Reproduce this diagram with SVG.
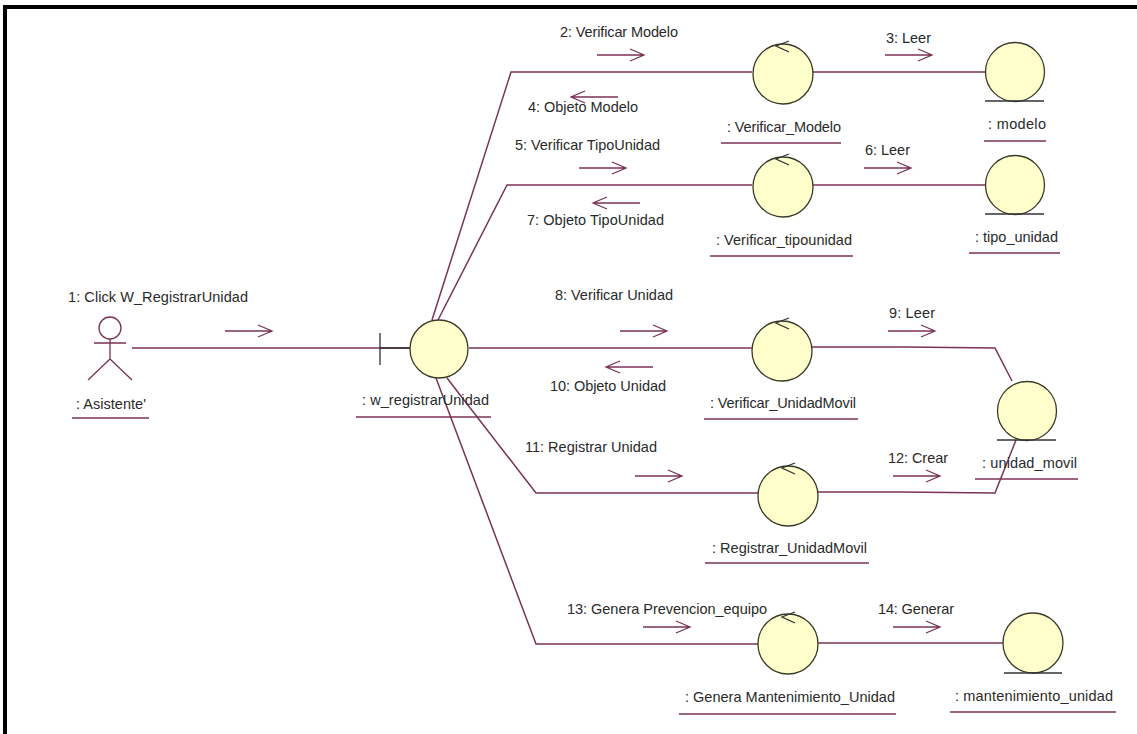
<svg xmlns="http://www.w3.org/2000/svg" width="1137" height="734" viewBox="0 0 1137 734">
<defs>
<style>
.c{fill:none;stroke:#7a3356;stroke-width:1.5}
.m{fill:none;stroke:#7a3356;stroke-width:1.3}
.n{fill:#ffffcc;stroke:#3a3a28;stroke-width:1.3}
.b{fill:none;stroke:#333;stroke-width:1.3}
.u{stroke:#7a3356;stroke-width:1.3}
text{font-family:"Liberation Sans",Arial,sans-serif;font-size:14.5px;fill:#2a2a2a}
</style>
<path id="r" class="m" d="M0 0H47M33-6 47 0 33 6"/>
<path id="l" class="m" d="M0 0H-47M-33-6-47 0-33 6"/>
<path id="h" class="b" d="M6-5-7 0 6 6"/>
</defs>
<rect x="0" y="0" width="1137" height="734" fill="#fff"/>
<path d="M5 734V7H1137" fill="none" stroke="#000" stroke-width="4"/>
<g id="connectors">
<path class="c" d="M132 348H410"/>
<path class="c" d="M469 348H752"/>
<path class="c" d="M432 320 511 72H752"/>
<path class="c" d="M438 320 507 185H752"/>
<path class="c" d="M436 378 536 644H758"/>
<path class="c" d="M447 378 536 493H758"/>
<path class="c" d="M813 72H985"/>
<path class="c" d="M813 185H985"/>
<path class="c" d="M812 347H905L995 348 1012 381"/>
<path class="c" d="M818 492H900L995 493 1016 440"/>
<path class="c" d="M818 643H1003"/>
<use href="#r" x="225" y="331"/>
<use href="#r" x="597" y="55"/>
<use href="#l" x="618" y="97"/>
<use href="#r" x="885" y="55"/>
<use href="#r" x="579" y="168"/>
<use href="#l" x="640" y="203"/>
<use href="#r" x="864" y="168"/>
<use href="#r" x="620" y="331"/>
<use href="#l" x="653" y="367"/>
<use href="#r" x="888" y="331"/>
<use href="#r" x="635" y="476"/>
<use href="#r" x="893" y="476"/>
<use href="#r" x="643" y="627"/>
<use href="#r" x="893" y="627"/>
</g>
<g id="asistente">
<circle cx="110" cy="328" r="11" fill="#fff" stroke="#7a3356" stroke-width="1.3"/>
<path class="m" d="M94 343H126M110 339V359M110 359 88 380M110 359 132 380"/>
<text x="76" y="409" textLength="70">: Asistente'</text>
<path class="u" d="M72 418H149"/>
<text x="68" y="302" textLength="180">1: Click W_RegistrarUnidad</text>
</g>
<g id="w_registrarUnidad">
<path class="b" d="M380 333V365M380 348H410"/>
<circle class="n" cx="439" cy="349" r="29"/>
<text x="362" y="405" textLength="127">: w_registrarUnidad</text>
<path class="u" d="M356 417H491"/>
</g>
<g id="verificar_modelo">
<circle class="n" cx="783" cy="74" r="30"/>
<use href="#h" x="783" y="46"/>
<text x="727" y="132" textLength="114">: Verificar_Modelo</text>
<path class="u" d="M721 143H841"/>
</g>
<g id="modelo">
<circle class="n" cx="1015" cy="72" r="29.5"/>
<path class="b" d="M985 101H1044"/>
<text x="988" y="129" textLength="58">: modelo</text>
<path class="u" d="M984 141H1046"/>
</g>
<g id="verificar_tipounidad">
<circle class="n" cx="783" cy="187" r="30"/>
<use href="#h" x="783" y="159"/>
<text x="716" y="245" textLength="136">: Verificar_tipounidad</text>
<path class="u" d="M710 256H853"/>
</g>
<g id="tipo_unidad">
<circle class="n" cx="1015" cy="185" r="29.5"/>
<path class="b" d="M985 214H1044"/>
<text x="975" y="242" textLength="83">: tipo_unidad</text>
<path class="u" d="M969 253H1060"/>
</g>
<g id="verificar_unidadmovil">
<circle class="n" cx="782" cy="351" r="30"/>
<use href="#h" x="783" y="323"/>
<text x="710" y="408" textLength="146">: Verificar_UnidadMovil</text>
<path class="u" d="M704 419H858"/>
</g>
<g id="unidad_movil">
<circle class="n" cx="1027" cy="411" r="29.5"/>
<path class="b" d="M997 440H1056"/>
<text x="982" y="468" textLength="95">: unidad_movil</text>
<path class="u" d="M975 479H1078"/>
</g>
<g id="registrar_unidadmovil">
<circle class="n" cx="788" cy="496" r="30"/>
<use href="#h" x="789" y="468"/>
<text x="712" y="553" textLength="155">: Registrar_UnidadMovil</text>
<path class="u" d="M705 563H869"/>
</g>
<g id="genera_mantenimiento">
<circle class="n" cx="788" cy="644" r="30"/>
<use href="#h" x="789" y="617"/>
<text x="685" y="702" textLength="210">: Genera Mantenimiento_Unidad</text>
<path class="u" d="M679 714H896"/>
</g>
<g id="mantenimiento_unidad">
<circle class="n" cx="1033" cy="643" r="30"/>
<path class="b" d="M1004 673H1062"/>
<text x="955" y="701" textLength="158">: mantenimiento_unidad</text>
<path class="u" d="M950 712H1116"/>
</g>
<g id="labels">
<text x="560" y="37" textLength="118">2: Verificar Modelo</text>
<text x="528" y="112" textLength="110">4: Objeto Modelo</text>
<text x="515" y="150" textLength="145">5: Verificar TipoUnidad</text>
<text x="527" y="225" textLength="137">7: Objeto TipoUnidad</text>
<text x="886" y="43" textLength="45">3: Leer</text>
<text x="865" y="155" textLength="45">6: Leer</text>
<text x="555" y="300" textLength="118">8: Verificar Unidad</text>
<text x="550" y="391" textLength="116">10: Objeto Unidad</text>
<text x="889" y="318" textLength="46">9: Leer</text>
<text x="525" y="452" textLength="132">11: Registrar Unidad</text>
<text x="888" y="463" textLength="60">12: Crear</text>
<text x="567" y="614" textLength="200">13: Genera Prevencion_equipo</text>
<text x="878" y="614" textLength="76">14: Generar</text>
</g>
</svg>
